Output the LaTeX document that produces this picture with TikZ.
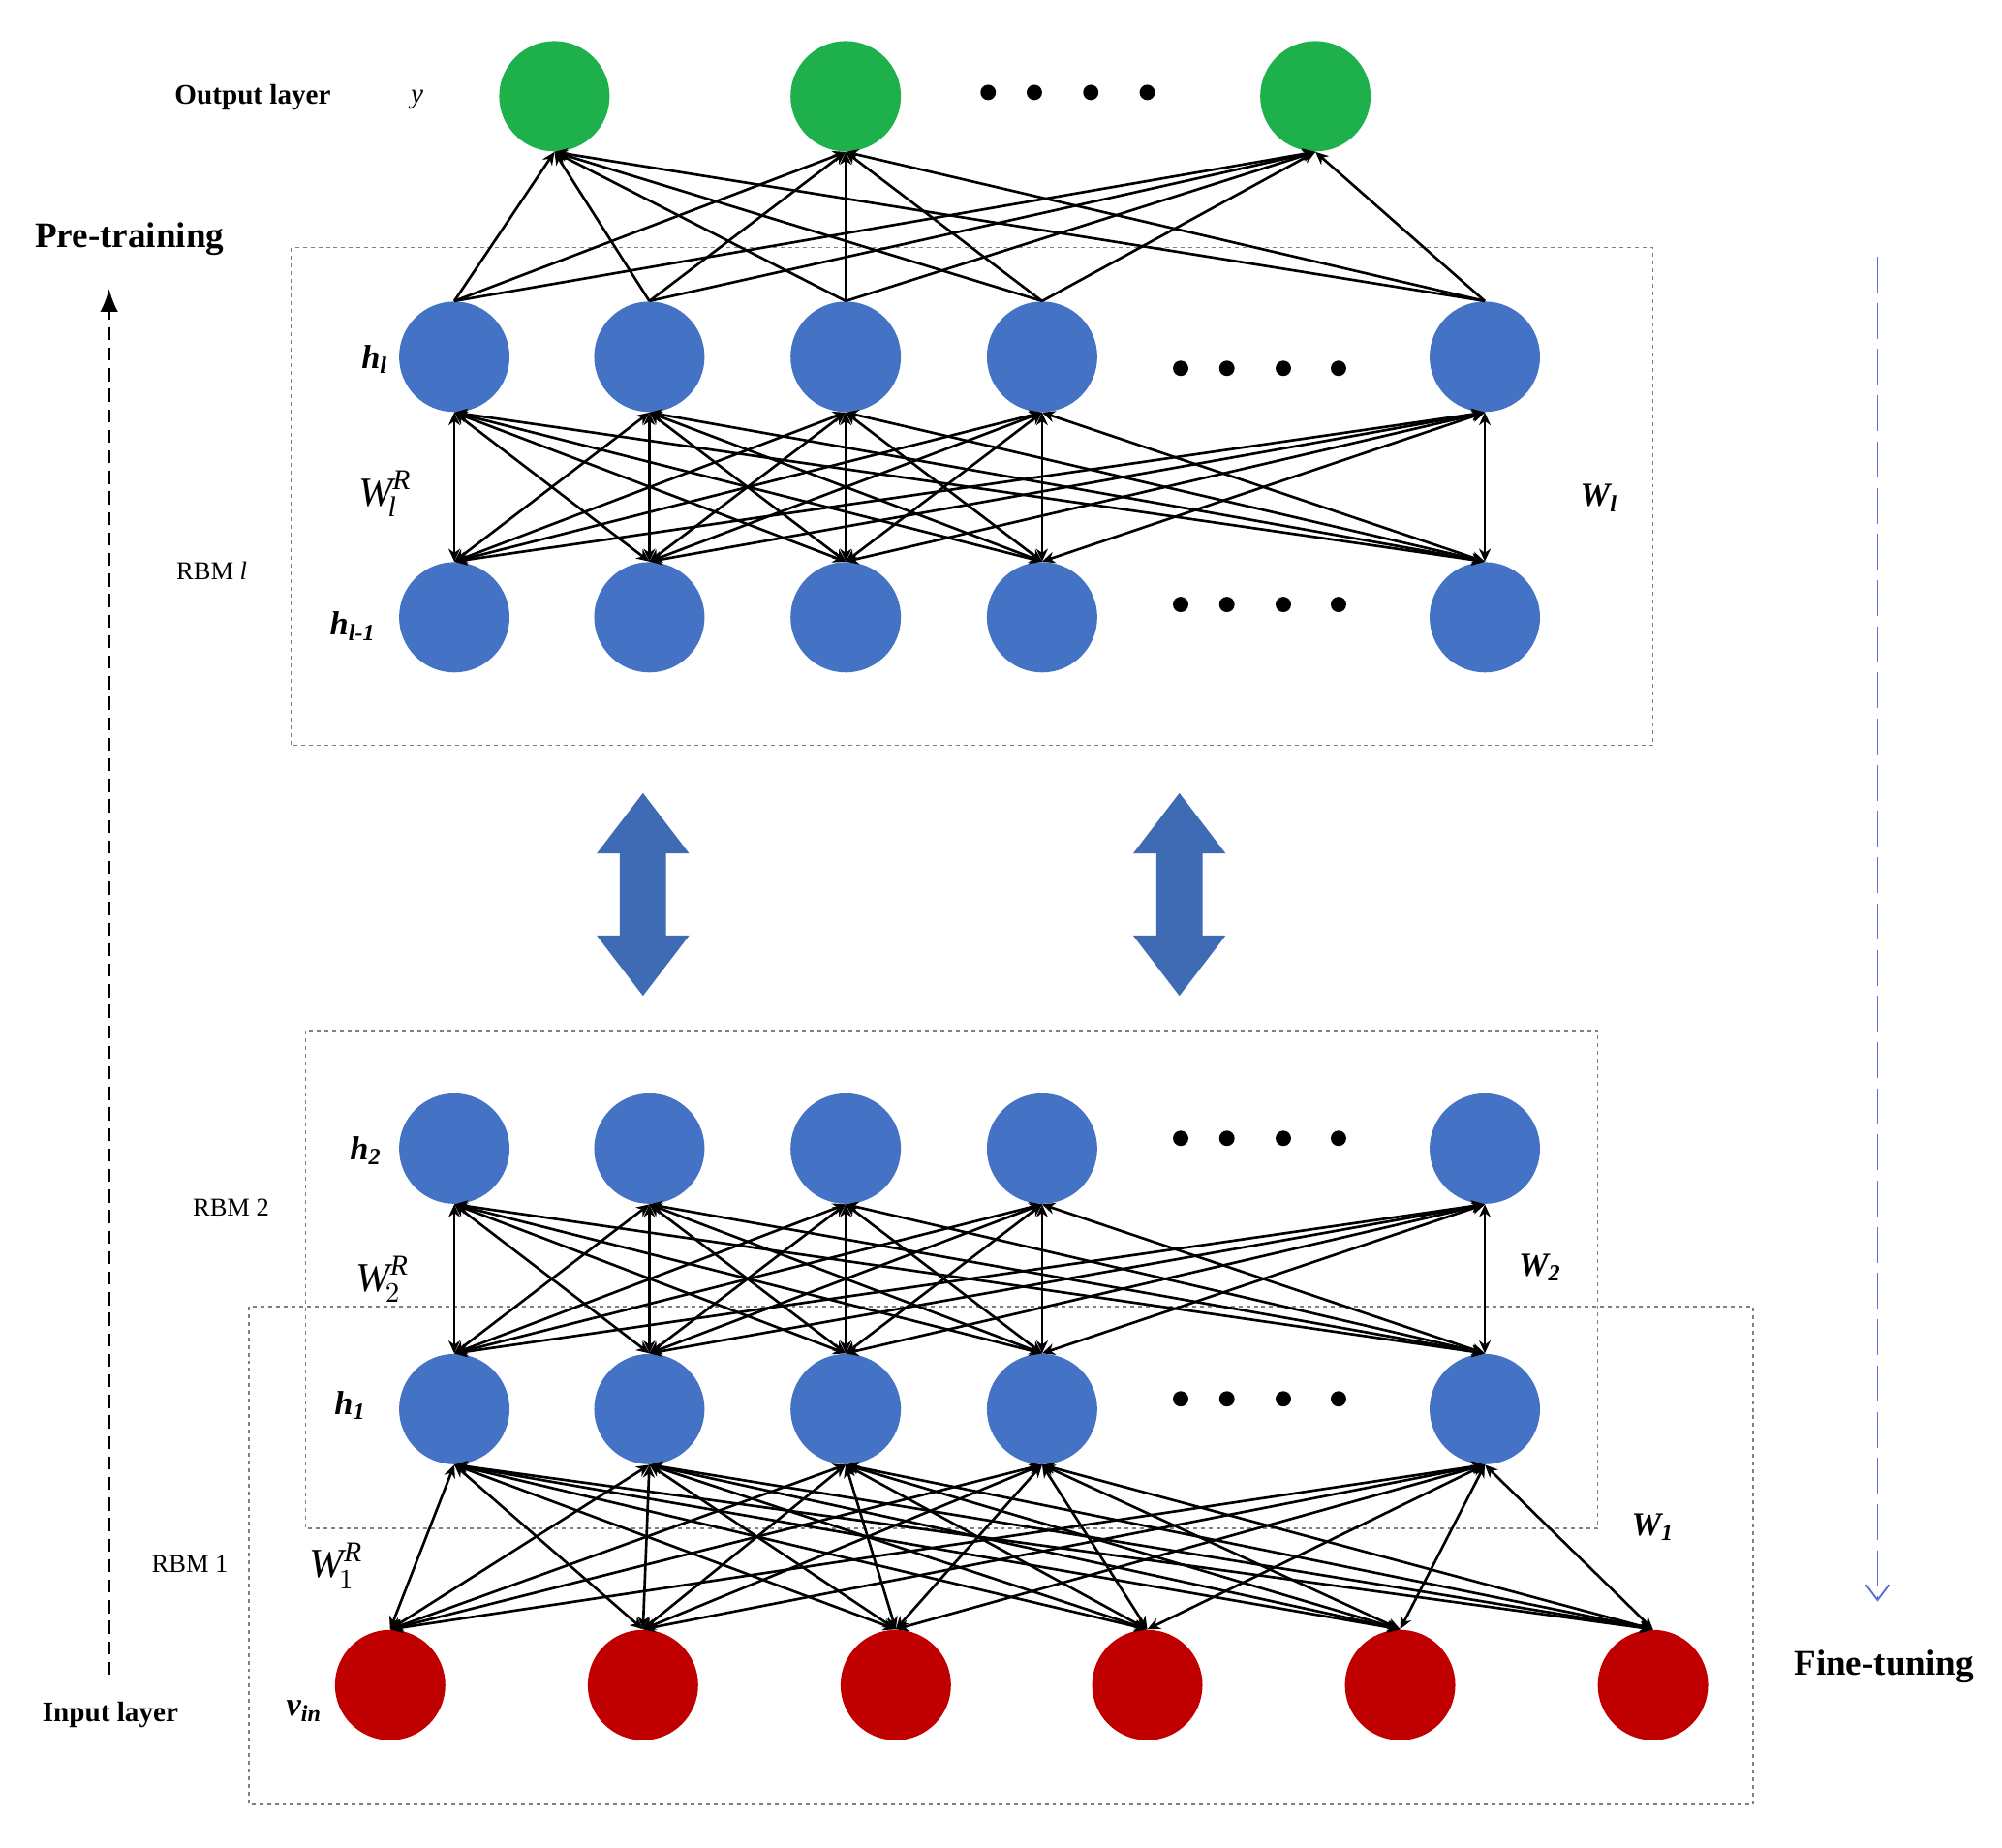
\documentclass[tikz,border=0pt]{standalone}
\usepackage{fontspec}
\setmainfont{Liberation Serif}
\usetikzlibrary{arrows.meta}
\definecolor{gn}{HTML}{1DB04B}
\definecolor{bl}{HTML}{4472C4}
\definecolor{rd}{HTML}{C00000}
\definecolor{ar}{HTML}{3E6BB3}
\definecolor{fb}{HTML}{5A6FD0}
\begin{document}
\begin{tikzpicture}[x=0.5pt,y=-0.5pt,
  neu/.style={circle,inner sep=0,minimum size=43pt,draw=none},
  dot/.style={circle,fill=black,inner sep=0,minimum size=6pt},
  cn/.style={line width=1pt,{Stealth[length=5pt,width=4.5pt]}-{Stealth[length=5pt,width=4.5pt]}},
  up/.style={line width=1pt,-{Stealth[length=5pt,width=4.5pt]}},
  box/.style={draw=gray,dash pattern=on 1.5pt off 1.5pt,line width=0.5pt},
  lbl/.style={font=\bfseries\fontsize{11}{13}\selectfont},
  big/.style={font=\bfseries\fontsize{14}{16}\selectfont},
  rbm/.style={font=\fontsize{10}{12}\selectfont},
  wl/.style={font=\itshape\fontsize{16}{18}\selectfont},
  hl/.style={font=\bfseries\itshape\fontsize{13}{15}\selectfont}]
\useasboundingbox (0,0) rectangle (1560,1440);
% boxes
\draw[box] (227,193) rectangle (1288,581);
\draw[box] (238,803) rectangle (1245,1191);
\draw[box] (194,1018) rectangle (1366,1406);
% nodes
\foreach \x [count=\i] in {432,659,1025} \node[neu,fill=gn] (o\i) at (\x,75) {};
\foreach \x [count=\i] in {354,506,659,812,1157} {
  \node[neu,fill=bl] (a\i) at (\x,278) {};
  \node[neu,fill=bl] (b\i) at (\x,481) {};
  \node[neu,fill=bl] (c\i) at (\x,895) {};
  \node[neu,fill=bl] (d\i) at (\x,1098) {};
}
\foreach \x [count=\i] in {304,501,698,894,1091,1288} \node[neu,fill=rd] (v\i) at (\x,1313) {};
% dots
\foreach \x [count=\i] in {770,806,850,894} \node[dot] (p\i) at (\x,72) {};
\foreach \x [count=\i] in {920,956,1000,1043} {
  \node[dot] (q\i) at (\x,287) {};
  \node[dot] (r\i) at (\x,471) {};
  \node[dot] (s\i) at (\x,887) {};
  \node[dot] (t\i) at (\x,1090) {};
}
% edges
\foreach \i in {1,...,5} \foreach \j in {1,2,3} \draw[up] (a\i.north) -- (o\j.south);
\foreach \i in {1,...,5} \foreach \j in {1,...,5} {
  \draw[cn] (a\i.south) -- (b\j.north);
  \draw[cn] (c\i.south) -- (d\j.north);
}
\foreach \i in {1,...,5} \foreach \j in {1,...,6} \draw[cn] (d\i.south) -- (v\j.north);
% double arrows
\foreach \x [count=\i] in {501,919} {
  \fill[ar] (\x,618) -- (\x+36,665) -- (\x+18,665) -- (\x+18,729) -- (\x+36,729) -- (\x,776)
     -- (\x-36,729) -- (\x-18,729) -- (\x-18,665) -- (\x-36,665) -- cycle;
  \coordinate (da\i) at (\x,697);
}
% side arrows
\coordinate (pl0) at (85,1305); \coordinate (pl1) at (85,225);
\draw[dash pattern=on 5pt off 3pt,line width=0.8pt,-{Latex[length=9pt,width=7pt]}] (pl0) -- (pl1);
\coordinate (ft0) at (1463,200); \coordinate (ft1) at (1463,1248);
\draw[fb,dash pattern=on 14pt off 4pt,line width=0.7pt,-{Straight Barb[length=6pt,width=9pt]}] (ft0) -- (ft1);
% labels
\node[lbl] (t1) at (197,76) {Output layer};
\node[font=\itshape\fontsize{11}{13}\selectfont] (t2) at (325,78) {y};
\node[big] (t3) at (101,186) {Pre-training};
\node[big] (t4) at (1468,1299) {Fine-tuning};
\node[lbl] (t5) at (86,1336) {Input layer};
\node[hl] (t6) at (292,280) {h\textsubscript{l}};
\node[hl] (t7) at (275,488) {h\textsubscript{l-1}};
\node[hl] (t8) at (285,897) {h\textsubscript{2}};
\node[hl] (t9) at (273,1095) {h\textsubscript{1}};
\node[hl] (t10) at (237,1333) {v\textsubscript{in}};
\node[wl] (t11) at (300,385) {W$_{\!\mathit{l}}^{\mathit{R}}$};
\node[wl] (t12) at (298,997) {W$_{\!2}^{\mathit{R}}$};
\node[wl] (t13) at (262,1220) {W$_{\!1}^{\mathit{R}}$};
\node[hl] (t14) at (1246,388) {W\textsubscript{l}};
\node[hl] (t15) at (1200,988) {W\textsubscript{2}};
\node[hl] (t16) at (1288,1190) {W\textsubscript{1}};
\node[rbm] (t17) at (165,445) {RBM \textit{l}};
\node[rbm] (t18) at (180,941) {RBM 2};
\node[rbm] (t19) at (148,1219) {RBM 1};
\end{tikzpicture}
\end{document}
